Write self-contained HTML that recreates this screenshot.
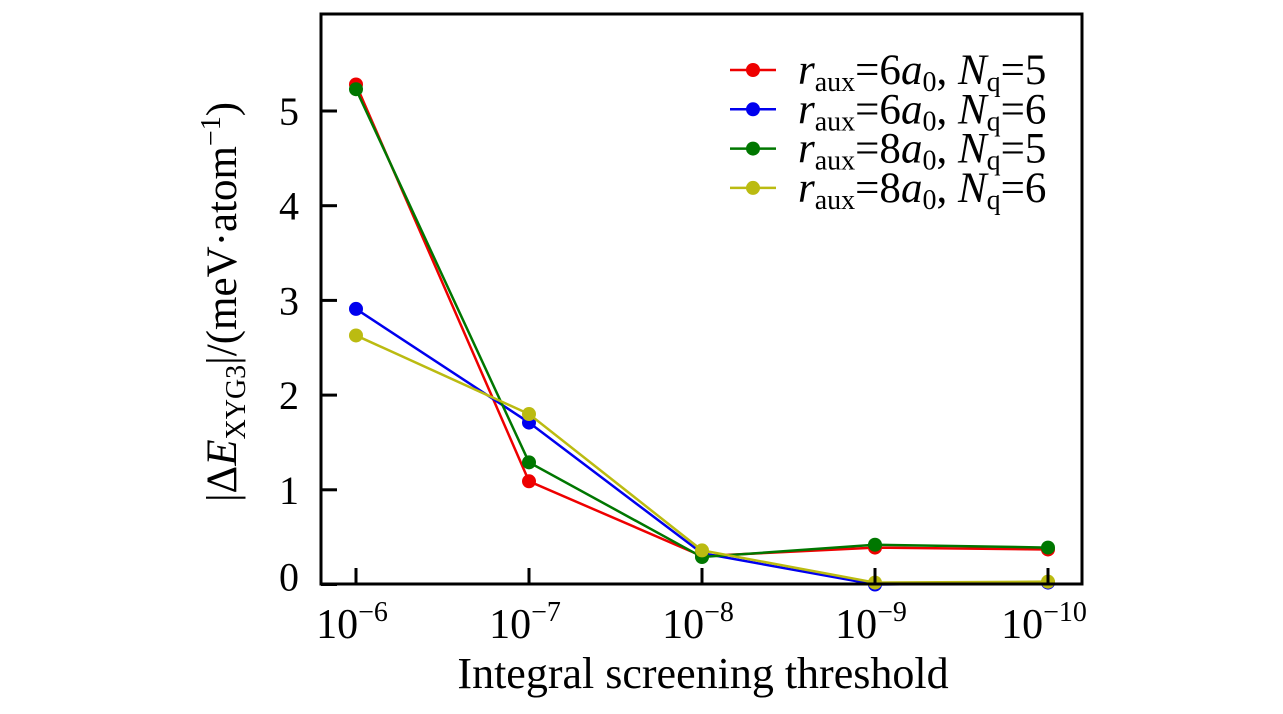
<!DOCTYPE html>
<html><head><meta charset="utf-8"><style>
body{margin:0;background:#fff;}
svg text{font-family:"Liberation Serif",serif;fill:#000;}
</style></head><body>
<svg id="chart" width="1283" height="709" viewBox="0 0 1283 709" xmlns="http://www.w3.org/2000/svg">
<g id="plot"></g>
<g id="axes"></g>
<text x="703" y="688" font-size="44" text-anchor="middle">Integral screening threshold</text>
<text transform="translate(236,302) rotate(-90)" font-size="43" text-anchor="middle">|Δ<tspan font-style="italic">E</tspan><tspan font-size="28" dy="9">XYG3</tspan><tspan dy="-9">|/(meV·atom</tspan><tspan font-size="28" dy="-16">−1</tspan><tspan dy="16">)</tspan></text>
<g id="legend"></g>
</svg>
<script>
const categories = ["-6","-7","-8","-9","-10"];
const seriesNames = ["6,5","6,6","8,5","8,6"];
const seriesColors = ["#ee0000","#0000ee","#007700","#bbbb11"];
const redValues = [5.28,1.09,0.30,0.39,0.37];
const blueValues = [2.91,1.71,0.33,0.00,0.02];
const greenValues = [5.23,1.29,0.29,0.42,0.39];
const yellowValues = [2.63,1.80,0.36,0.02,0.03];
const yTicks = [0,1,2,3,4,5];
const series = [redValues,blueValues,greenValues,yellowValues];

const L=321,R=1082,T=14,B=584;
const x0=356, dx=173;
function xs(i){return x0+i*dx;}
function ys(v){return 584.5-v*94.7;}
const NS="http://www.w3.org/2000/svg";
function mk(tag,attrs,parent){const e=document.createElementNS(NS,tag);for(const k in attrs)e.setAttribute(k,attrs[k]);parent.appendChild(e);return e;}
const plot=document.getElementById('plot'), axes=document.getElementById('axes');
series.forEach((vals,s)=>{
  const pl=mk('polyline',{points:vals.map((v,i)=>xs(i)+','+ys(v)).join(' '),fill:'none',stroke:seriesColors[s],'stroke-width':2.5},plot);
  
  
  vals.forEach((v,i)=>{
    const c=mk('circle',{cx:xs(i),cy:ys(v),r:7,fill:seriesColors[s]},plot);
    
    
  });
});
const frame=mk('rect',{x:L,y:T,width:R-L,height:B-T,fill:'none',stroke:'#000','stroke-width':3},axes);


categories.forEach((c,i)=>{
  mk('line',{x1:xs(i),x2:xs(i),y1:B,y2:B-16,stroke:'#000','stroke-width':3},axes);
  const t=mk('text',{x:xs(i)-4,y:638,'font-size':42,'text-anchor':'middle'},axes);
  t.innerHTML='10<tspan font-size="28" dy="-17">−'+c.slice(1)+'</tspan>';
  
  
});
yTicks.forEach(v=>{
  mk('line',{x1:L,x2:L+16,y1:ys(v),y2:ys(v),stroke:'#000','stroke-width':3},axes);
  const t=mk('text',{x:299,y:ys(v)+14-(v===0?8:0),'font-size':40,'text-anchor':'end'},axes);
  t.textContent=v;
  
  
});
const leg=document.getElementById('legend');
seriesNames.forEach((n,s)=>{
  const [r,q]=n.split(',');
  const y=70+s*39.3;
  mk('line',{x1:730,x2:776,y1:y,y2:y,stroke:seriesColors[s],'stroke-width':2.5},leg);
  mk('circle',{cx:753,cy:y,r:7,fill:seriesColors[s]},leg);
  const t=mk('text',{x:798,y:y+14,'font-size':43},leg);
  t.innerHTML='<tspan font-style="italic">r</tspan><tspan font-size="28" dy="7">aux</tspan><tspan dy="-7">='+r+'</tspan><tspan font-style="italic">a</tspan><tspan font-size="28" dy="7">0</tspan><tspan dy="-7">, </tspan><tspan font-style="italic">N</tspan><tspan font-size="28" dy="7">q</tspan><tspan dy="-7">='+q+'</tspan>';
  
  
});
</script>
</body></html>
